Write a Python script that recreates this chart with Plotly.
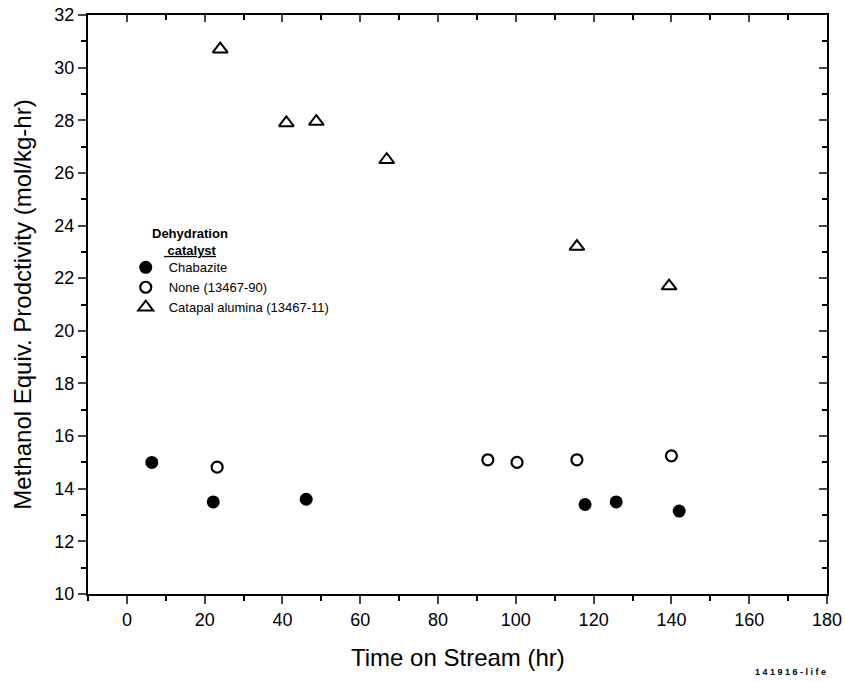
import plotly.graph_objects as go

chab_x = [6.4, 22.2, 46.1, 117.8, 125.8, 142.0]
chab_y = [15.0, 13.5, 13.6, 13.4, 13.5, 13.15]
none_x = [23.2, 92.8, 100.3, 115.7, 140.0]
none_y = [14.82, 15.1, 15.0, 15.1, 15.25]
cat_x = [24.0, 41.0, 48.7, 66.8, 115.7, 139.4]
cat_y = [30.7, 27.9, 27.95, 26.5, 23.2, 21.7]

x_ticks = list(range(0, 181, 20))
y_ticks = list(range(10, 33, 2))

fig = go.Figure()
fig.add_trace(go.Scatter(x=chab_x, y=chab_y, mode="markers", name="Chabazite",
                         marker=dict(symbol="circle", size=13, color="black")))
fig.add_trace(go.Scatter(x=none_x, y=none_y, mode="markers", name="None (13467-90)",
                         marker=dict(symbol="circle-open", size=11, color="black", line=dict(width=2.2))))
fig.add_trace(go.Scatter(x=cat_x, y=cat_y, mode="markers", name="Catapal alumina (13467-11)",
                         marker=dict(symbol="triangle-up-open", size=13, color="black", line=dict(width=2))))
fig.add_trace(go.Scatter(x=[None], y=[None], xaxis="x2", yaxis="y2", showlegend=False))

axis_font = dict(family="Liberation Sans, Arial", size=18, color="black")
fig.update_layout(
    width=845, height=682,
    margin=dict(l=88, r=18, t=15, b=88, autoexpand=False),
    plot_bgcolor="white", paper_bgcolor="white",
    font=dict(family="Liberation Sans, Arial", color="black"),
    xaxis=dict(range=[-10, 180], tickvals=x_ticks, ticks="outside", ticklen=8, tickwidth=2,
               showline=True, linecolor="black", linewidth=2, showgrid=False, zeroline=False,
               tickfont=axis_font, automargin=False,
               minor=dict(dtick=10, tick0=0, ticks="outside", ticklen=5, tickwidth=2, tickcolor="black")),
    yaxis=dict(range=[10, 32], tickvals=y_ticks, ticks="outside", ticklen=8, tickwidth=2,
               showline=True, linecolor="black", linewidth=2, showgrid=False, zeroline=False,
               tickfont=axis_font, automargin=False,
               minor=dict(dtick=1, tick0=0, ticks="outside", ticklen=5, tickwidth=2, tickcolor="black"),
               title=dict(text="Methanol Equiv. Prodctivity (mol/kg-hr)", font=dict(size=24), standoff=16)),
    xaxis2=dict(range=[-10, 180], overlaying="x", side="top", tickvals=x_ticks, ticks="inside",
                ticklen=7, tickwidth=2, showticklabels=False, showline=True, linecolor="black",
                linewidth=2, showgrid=False, zeroline=False, automargin=False,
                minor=dict(dtick=10, tick0=0, ticks="inside", ticklen=5, tickwidth=2, tickcolor="black")),
    yaxis2=dict(range=[10, 32], overlaying="y", side="right", tickvals=y_ticks, ticks="inside",
                ticklen=8, tickwidth=2, showticklabels=False, showline=True, linecolor="black",
                linewidth=2, showgrid=False, zeroline=False, automargin=False,
                minor=dict(dtick=1, tick0=0, ticks="inside", ticklen=5, tickwidth=2, tickcolor="black")),
    legend=dict(x=0.047, y=0.590, xanchor="left", yanchor="top", bgcolor="rgba(0,0,0,0)",
                font=dict(size=13), itemsizing="trace", tracegroupgap=0, itemwidth=36),
    showlegend=True,
)
fig.add_annotation(text="Time on Stream (hr)", xref="paper", yref="paper", x=0.5, y=-0.1105,
                   xanchor="center", yanchor="middle", showarrow=False,
                   font=dict(size=24, family="Liberation Sans, Arial", color="black"))
fig.add_annotation(text="<b>Dehydration</b><br><b><span style='text-decoration:underline'> catalyst</span></b>",
                   xref="paper", yref="paper", x=(190 - 88) / 739, y=(594 - 242) / 579,
                   xanchor="center", yanchor="middle", showarrow=False, align="center",
                   font=dict(size=13, family="Liberation Sans, Arial", color="black"))
fig.add_annotation(text="<b>1 4 1 9 1 6 - l i f e</b>", xref="paper", yref="paper", x=0.95, y=-0.135,
                   xanchor="center", yanchor="middle", showarrow=False,
                   font=dict(size=9, family="Liberation Sans, Arial", color="black"))
fig.write_html("out.html")
